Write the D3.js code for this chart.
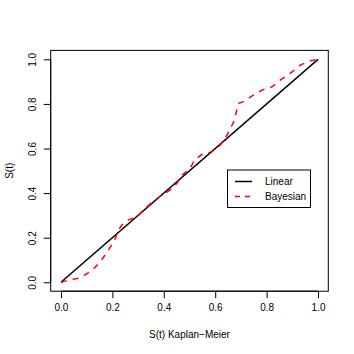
<!DOCTYPE html>
<html><head><meta charset="utf-8">
<script src="https://cdn.jsdelivr.net/npm/d3@7"></script>
<style>body{margin:0;background:#fff;} text{font-family:"Liberation Sans",Arial,sans-serif;}</style>
</head><body>
<svg id="c" width="354" height="354"></svg>
<script>
const xTicks = [0, 0.2, 0.4, 0.6, 0.8, 1.0];
const yTicks = [0, 0.2, 0.4, 0.6, 0.8, 1.0];
const linearX = [0, 1];
const linearY = [0, 1];
const bayesX = [0, 0.03, 0.075, 0.12, 0.153, 0.185, 0.209, 0.224, 0.237, 0.263, 0.296, 0.32, 0.36, 0.393, 0.425, 0.451, 0.471, 0.503, 0.519, 0.549, 0.588, 0.62, 0.646, 0.672, 0.691, 0.711, 0.749, 0.782, 0.821, 0.853, 0.892, 0.931, 0.97, 1.0];
const bayesY = [0, 0.01, 0.02, 0.052, 0.092, 0.145, 0.19, 0.235, 0.257, 0.28, 0.294, 0.324, 0.364, 0.391, 0.414, 0.444, 0.481, 0.511, 0.548, 0.574, 0.586, 0.616, 0.66, 0.72, 0.803, 0.81, 0.84, 0.862, 0.877, 0.907, 0.937, 0.974, 0.994, 1.0];
const legendLabels = ["Linear", "Bayesian"];

const svg = d3.select("#c");
const L = 50.7, R = 328.3, T = 50.4, B = 291.2;
const x = d3.scaleLinear().domain([-0.04, 1.04]).range([L, R]);
const y = d3.scaleLinear().domain([-0.04, 1.04]).range([B, T]);

svg.append("rect").attr("x", L).attr("y", T).attr("width", R - L).attr("height", B - T)
  .attr("fill", "none").attr("stroke", "#000").attr("stroke-width", 1);

const fmt = d3.format(".1f");
const xa = svg.append("g").attr("transform", `translate(0,${B})`)
  .call(d3.axisBottom(x).tickValues(xTicks).tickFormat(fmt).tickSize(7).tickPadding(6));
xa.select(".domain").attr("d", `M${x(0)},0H${x(1)}`);
xa.selectAll("text").attr("font-size", 10).attr("font-family", "Liberation Sans, Arial, sans-serif");

const ya = svg.append("g").attr("transform", `translate(${L},0)`)
  .call(d3.axisLeft(y).tickValues(yTicks).tickFormat(fmt).tickSize(7).tickPadding(6));
ya.select(".domain").attr("d", `M0,${y(0)}V${y(1)}`);
ya.selectAll("text").attr("font-size", 10).attr("font-family", "Liberation Sans, Arial, sans-serif")
  .attr("x", -18).attr("y", 0).attr("dy", "0.35em").attr("text-anchor", "middle")
  .attr("transform", "rotate(-90, -18, 0)");

svg.append("text").attr("x", (x(0) + x(1)) / 2).attr("y", 338).attr("text-anchor", "middle")
  .attr("font-size", 10).text("S(t) Kaplan\u2212Meier");
svg.append("text").attr("transform", `translate(13,${(y(0) + y(1)) / 2}) rotate(-90)`)
  .attr("text-anchor", "middle").attr("font-size", 10).text("S(t)");

const line = d3.line().x(d => x(d[0])).y(d => y(d[1]));
svg.append("path").datum(d3.zip(linearX, linearY)).attr("d", line)
  .attr("fill", "none").attr("stroke", "#000").attr("stroke-width", 1.5);
svg.append("path").datum(d3.zip(bayesX, bayesY)).attr("d", line)
  .attr("fill", "none").attr("stroke", "#ff0000").attr("stroke-width", 1.5)
  .attr("stroke-dasharray", "6,6");

const lg = svg.append("g");
lg.append("rect").attr("x", 227.5).attr("y", 170).attr("width", 83).attr("height", 37.5)
  .attr("fill", "#fff").attr("stroke", "#000").attr("stroke-width", 1);
const ly = [181.5, 196.5];
legendLabels.forEach((lab, i) => {
  lg.append("line").attr("x1", 235).attr("x2", 252).attr("y1", ly[i]).attr("y2", ly[i])
    .attr("stroke", i ? "#ff0000" : "#000").attr("stroke-width", 1.5)
    .attr("stroke-dasharray", i ? "5,5" : null);
  lg.append("text").attr("x", 265).attr("y", ly[i]).attr("dy", "0.35em")
    .attr("font-size", 10).text(lab);
});
</script>
</body></html>
